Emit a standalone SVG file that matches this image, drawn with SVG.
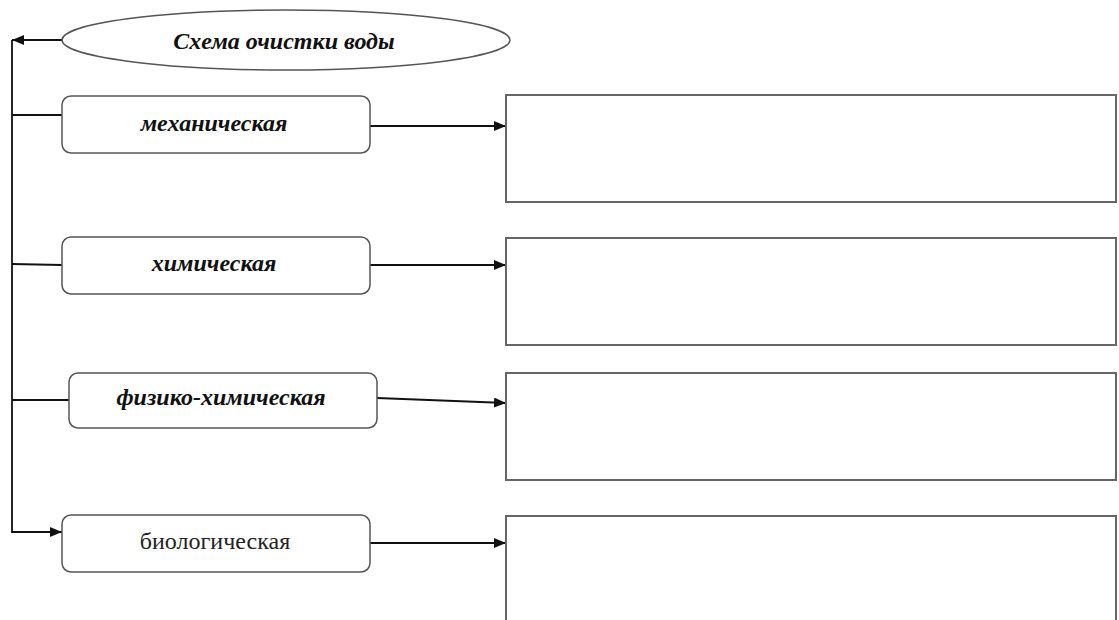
<svg xmlns="http://www.w3.org/2000/svg" width="1119" height="620" viewBox="0 0 1119 620">
<style>
.box{fill:#fff;stroke:#555;stroke-width:1.5}
.out{fill:#fff;stroke:#666;stroke-width:2}
.ln{fill:none;stroke:#111;stroke-width:1.8}
.t{font-family:"Liberation Serif",serif;font-size:24px;font-weight:bold;font-style:italic;fill:#111;text-anchor:middle}
.r{font-family:"Liberation Serif",serif;font-size:24px;fill:#222;text-anchor:middle}
</style>
<defs>
<marker id="ar" markerWidth="12" markerHeight="10" refX="12" refY="5" orient="auto" markerUnits="userSpaceOnUse">
<path d="M0,0 L12,5 L0,10 Z" fill="#111"/>
</marker>
</defs>
<g id="connectors">
<path class="ln" d="M62,40 L12,40" marker-end="url(#ar)"/>
<path class="ln" d="M12,40 L12,532 L62,532" marker-end="url(#ar)"/>
<path class="ln" d="M12,115 L62,115"/>
<path class="ln" d="M12,264 L62,265"/>
<path class="ln" d="M12,400 L69,400"/>
<path class="ln" d="M370,126 L506,126" marker-end="url(#ar)"/>
<path class="ln" d="M370,265 L506,265" marker-end="url(#ar)"/>
<path class="ln" d="M377,398 L506,403" marker-end="url(#ar)"/>
<path class="ln" d="M370,543 L506,543" marker-end="url(#ar)"/>
</g>
<g id="title">
<ellipse class="box" cx="286" cy="40" rx="224" ry="30"/>
<text class="t" x="284" y="49">Схема очистки воды</text>
</g>
<g id="n1">
<rect class="box" x="62" y="96" width="308" height="57" rx="9"/>
<text class="t" x="214" y="131">механическая</text>
</g>
<g id="n2">
<rect class="box" x="62" y="237" width="308" height="57" rx="9"/>
<text class="t" x="214" y="271">химическая</text>
</g>
<g id="n3">
<rect class="box" x="69" y="373" width="308" height="55" rx="9"/>
<text class="t" x="221" y="405">физико-химическая</text>
</g>
<g id="n4">
<rect class="box" x="62" y="515" width="308" height="57" rx="9"/>
<text class="r" x="215" y="549">биологическая</text>
</g>
<g id="b1"><rect class="out" x="506" y="95" width="610" height="107"/></g>
<g id="b2"><rect class="out" x="506" y="238" width="610" height="107"/></g>
<g id="b3"><rect class="out" x="506" y="373" width="610" height="107"/></g>
<g id="b4"><path class="out" d="M506,622 L506,516 L1116,516 L1116,622"/></g>
</svg>
